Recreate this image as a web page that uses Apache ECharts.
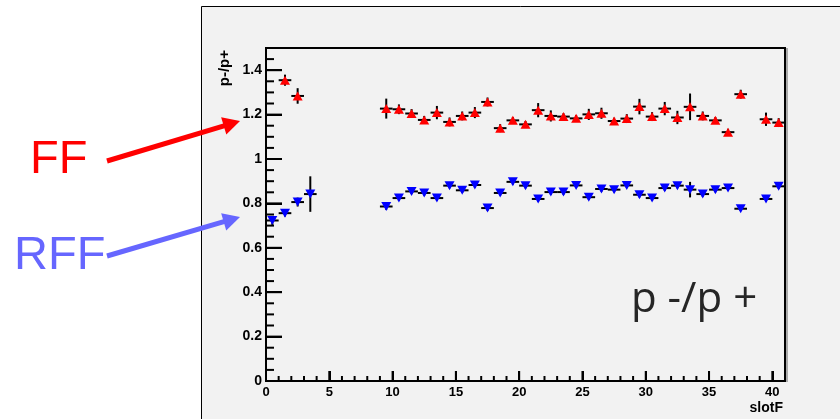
<!DOCTYPE html>
<html>
<head>
<meta charset="utf-8">
<script src="https://cdn.jsdelivr.net/npm/echarts@6/dist/echarts.min.js"></script>
<style>
html,body{margin:0;padding:0;background:#fff;}
#c{width:840px;height:419px;}
</style>
</head>
<body>
<div id="c"></div>
<script>
// slotF bin centres (bins 0..40, width 1)
const slotCenters = [0.5,1.5,2.5,3.5,4.5,5.5,6.5,7.5,8.5,9.5,10.5,11.5,12.5,13.5,14.5,15.5,16.5,17.5,18.5,19.5,20.5,21.5,22.5,23.5,24.5,25.5,26.5,27.5,28.5,29.5,30.5,31.5,32.5,33.5,34.5,35.5,36.5,37.5,38.5,39.5,40.5];
const binHalfWidth = 0.5;
// FF (red, triangle up)
const ffValues = [null,1.355,1.284,null,null,null,null,null,null,1.227,1.224,1.205,1.176,1.209,1.167,1.194,1.209,1.257,1.139,1.174,1.156,1.220,1.194,1.191,1.183,1.201,1.206,1.171,1.182,1.236,1.191,1.227,1.187,1.235,1.194,1.174,1.121,1.292,null,1.179,1.164];
const ffErrors = [0,0.025,0.035,0,0,0,0,0,0,0.045,0.022,0.020,0.018,0.030,0.020,0.020,0.025,0.020,0.018,0.015,0.015,0.032,0.025,0.015,0.015,0.025,0.025,0.015,0.020,0.035,0.020,0.030,0.030,0.060,0.020,0.015,0.015,0.020,0,0.030,0.020];
// RFF (blue, triangle down)
const rffValues = [0.723,0.756,0.806,0.842,null,null,null,null,null,0.786,0.824,0.854,0.847,0.824,0.880,0.859,0.883,0.779,0.847,0.897,0.880,0.820,0.851,0.851,0.881,0.828,0.865,0.862,0.881,0.839,0.824,0.869,0.880,0.862,0.842,0.862,0.869,0.776,null,0.820,0.877];
const rffErrors = [0.020,0.015,0.020,0.080,0,0,0,0,0,0.015,0.012,0.012,0.012,0.012,0.012,0.012,0.012,0.012,0.012,0.012,0.012,0.012,0.012,0.012,0.012,0.012,0.012,0.012,0.012,0.012,0.012,0.012,0.012,0.035,0.012,0.012,0.012,0.010,0,0.012,0.012];
// axes
const xMin = 0, xMax = 41, xMajor = 5, xMinor = 1;
const yMin = 0, yMax = 1.5, yMajor = 0.2, yMinor = 0.05;
const yTitle = 'p-/p+';
const xTitle = 'slotF';
const plotLabel = 'p -/p +';
const labelFF = 'FF', labelRFF = 'RFF';

function pts(vals, errs) {
  const out = [];
  for (let i = 0; i < slotCenters.length; i++) {
    if (vals[i] != null) out.push([slotCenters[i], vals[i], errs[i]]);
  }
  return out;
}
const ffData = pts(ffValues, ffErrors);
const rffData = pts(rffValues, rffErrors);

// tick values
const xTicks = [], yTicks = [];
for (let k = 0; k <= Math.round((xMax - xMin) / xMinor); k++) {
  xTicks.push({v: xMin + k * xMinor, major: k % Math.round(xMajor / xMinor) === 0});
}
for (let k = 0; k <= Math.round((yMax - yMin) / yMinor); k++) {
  yTicks.push({v: +(yMin + k * yMinor).toFixed(4), major: k % Math.round(yMajor / yMinor) === 0});
}

function errRender(params, api) {
  const x = api.value(0), y = api.value(1), e = api.value(2);
  const l = api.coord([x - binHalfWidth, y]);
  const r = api.coord([x + binHalfWidth, y]);
  const t = api.coord([x, y + e]);
  const b = api.coord([x, y - e]);
  const st = {stroke: '#000', lineWidth: 2};
  return {type: 'group', children: [
    {type: 'line', shape: {x1: l[0], y1: l[1], x2: r[0], y2: r[1]}, style: st},
    {type: 'line', shape: {x1: t[0], y1: t[1], x2: b[0], y2: b[1]}, style: st}
  ]};
}

function arrow(x1, y1, x2, y2, color, w, hl, hw) {
  const dx = x2 - x1, dy = y2 - y1, L = Math.hypot(dx, dy);
  const ux = dx / L, uy = dy / L, nx = -uy, ny = ux;
  const bx = x2 - ux * hl, by = y2 - uy * hl;
  return [
    {type: 'line', z: 100, shape: {x1: x1, y1: y1, x2: bx + ux * 2, y2: by + uy * 2}, style: {stroke: color, lineWidth: w}},
    {type: 'polygon', z: 100, shape: {points: [[x2, y2], [bx + nx * hw, by + ny * hw], [bx - nx * hw, by - ny * hw]]}, style: {fill: color}}
  ];
}

const labelFont = {color: '#000', fontFamily: 'Liberation Sans, Arial, sans-serif', fontWeight: 'bold'};

const baseGraphics = [
  {type: 'rect', shape: {x: 0, y: 0, width: 201.5, height: 419}, style: {fill: '#ffffff'}},
  {type: 'rect', shape: {x: 0, y: 0, width: 840, height: 6.5}, style: {fill: '#ffffff'}},
  {type: 'polyline', shape: {points: [[201.5, 419], [201.5, 6.5], [840, 6.5]]}, style: {stroke: '#000', lineWidth: 1, fill: null}},
  {type: 'line', shape: {x1: 787, y1: 48, x2: 787, y2: 382}, style: {stroke: '#aaaaaa', lineWidth: 2}},
  {type: 'text', z: 100, x: 225, y: 50, rotation: Math.PI / 2, style: {text: yTitle, align: 'right', verticalAlign: 'middle', font: 'bold 15px "Liberation Sans", Arial, sans-serif', fill: '#000'}},
  {type: 'text', z: 100, x: 783, y: 408, style: {text: xTitle, align: 'right', verticalAlign: 'middle', font: 'bold 14px "Liberation Sans", Arial, sans-serif', fill: '#000'}},
  {type: 'text', z: 100, x: 631, y: 300, style: {text: plotLabel, align: 'left', verticalAlign: 'middle', font: '42px "Open Sans", "DejaVu Sans", sans-serif', fill: '#262626'}},
  {type: 'text', z: 100, x: 30, y: 160, style: {text: labelFF, align: 'left', verticalAlign: 'middle', font: '47px "Liberation Sans", Arial, sans-serif', fill: '#ff0000'}},
  {type: 'text', z: 100, x: 14, y: 256, style: {text: labelRFF, align: 'left', verticalAlign: 'middle', font: '47px "Liberation Sans", Arial, sans-serif', fill: '#6666ff'}}
].concat(arrow(107, 161, 240, 121, '#ff0000', 5, 17, 9)).concat(arrow(107, 256, 240, 217, '#6666ff', 5, 17, 9));

const chart = echarts.init(document.getElementById('c'), null, {renderer: 'canvas'});
chart.setOption({
  animation: false,
  backgroundColor: '#f2f2f2',
  grid: {left: 266, right: 55, top: 48, bottom: 38, show: true, backgroundColor: 'transparent', borderColor: '#000', borderWidth: 2},
  xAxis: {type: 'value', min: xMin, max: xMax, interval: xMajor, position: 'bottom',
     axisLine: {show: true, onZero: false, lineStyle: {color: '#000', width: 2}},
     axisTick: {show: true, inside: true, length: 10, lineStyle: {color: '#000', width: 2}},
     axisLabel: Object.assign({margin: 5, fontSize: 13, showMaxLabel: false}, labelFont),
     splitLine: {show: false}},
  yAxis: {type: 'value', min: yMin, max: yMax, interval: yMajor, position: 'left',
     axisLine: {show: true, onZero: false, lineStyle: {color: '#000', width: 2}},
     axisTick: {show: true, inside: true, length: 16, lineStyle: {color: '#000', width: 2}},
     axisLabel: Object.assign({margin: 4, fontSize: 14, showMaxLabel: false}, labelFont),
     splitLine: {show: false}},
  series: [
    {type: 'custom', name: 'FF err', data: ffData, encode: {x: 0, y: 1}, renderItem: errRender, z: 3, silent: true},
    {type: 'custom', name: 'RFF err', data: rffData, encode: {x: 0, y: 1}, renderItem: errRender, z: 3, silent: true},
    {type: 'scatter', name: 'FF', data: ffData.map(d => [d[0], d[1]]), symbol: 'triangle', symbolSize: [10, 9], itemStyle: {color: '#ff0000', opacity: 1}, z: 5, silent: true},
    {type: 'scatter', name: 'RFF', data: rffData.map(d => [d[0], d[1]]), symbol: 'triangle', symbolRotate: 180, symbolSize: [10, 9], itemStyle: {color: '#0000ff', opacity: 1}, z: 5, silent: true}
  ],
  graphic: {elements: baseGraphics}
});

// inside ticks (ROOT style), positioned through the chart's own axis scales
const tickEls = [];
const tickStyle = {stroke: '#000', lineWidth: 2};
xTicks.forEach(t => {
  const p = chart.convertToPixel({gridIndex: 0}, [t.v, yMin]);
  const len = t.major ? 10 : 5;
  tickEls.push({type: 'line', z: 50, shape: {x1: p[0], y1: p[1], x2: p[0], y2: p[1] - len}, style: tickStyle});
});
yTicks.forEach(t => {
  const p = chart.convertToPixel({gridIndex: 0}, [xMin, t.v]);
  const len = t.major ? 16 : 8;
  tickEls.push({type: 'line', z: 50, shape: {x1: p[0], y1: p[1], x2: p[0] + len, y2: p[1]}, style: tickStyle});
});
chart.setOption({graphic: {elements: baseGraphics.concat(tickEls)}});
</script>
</body>
</html>
